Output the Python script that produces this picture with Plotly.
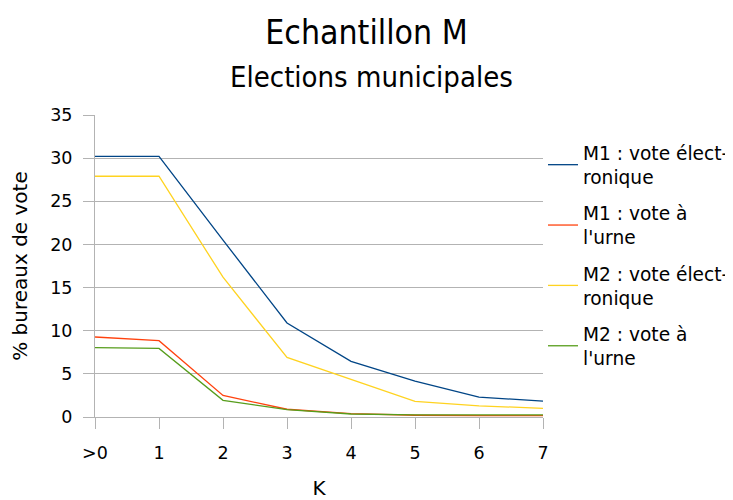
import plotly.graph_objects as go

categories = [">0", "1", "2", "3", "4", "5", "6", "7"]
m1_elec = [30.2, 30.2, 20.5, 10.9, 6.45, 4.15, 2.3, 1.85]
m1_urne = [9.27, 8.84, 2.5, 0.9, 0.4, 0.2, 0.15, 0.15]
m2_elec = [27.9, 27.9, 16.2, 6.9, 4.35, 1.8, 1.3, 1.0]
m2_urne = [8.05, 7.95, 1.93, 0.85, 0.35, 0.25, 0.25, 0.25]
y_ticks = [0, 5, 10, 15, 20, 25, 30, 35]

series = [
    ("M1 : vote élect-<br>ronique", m1_elec, "#004586"),
    ("M1 : vote à<br>l'urne", m1_urne, "#ff420e"),
    ("M2 : vote élect-<br>ronique", m2_elec, "#ffd320"),
    ("M2 : vote à<br>l'urne", m2_urne, "#579d1c"),
]

# page body has an 8px margin: figure coords = screen coords - 8
OFF = 8
W, H = 733 - OFF, 500 - OFF
PLOT_L, PLOT_R, PLOT_T, PLOT_B = 95 - OFF, 543 - OFF, 115 - OFF, 417 - OFF
PW, PH = PLOT_R - PLOT_L, PLOT_B - PLOT_T

xs = list(range(len(categories)))
fig = go.Figure()
for i, (name, vals, col) in enumerate(series):
    fig.add_trace(go.Scatter(x=xs, y=vals, mode="lines", name=name,
                             legendgroup=f"g{i}",
                             line=dict(color=col, width=1.3)))

fig.update_layout(
    width=W, height=H,
    paper_bgcolor="white", plot_bgcolor="white",
    margin=dict(l=PLOT_L, r=W - PLOT_R, t=PLOT_T, b=H - PLOT_B),
    font=dict(family="DejaVu Sans", size=17.5, color="black"),
    title=dict(text="Echantillon M", x=(366.5 - OFF) / W, xref="container",
               xanchor="center",
               y=1 - (32 - OFF) / H, yref="container", yanchor="middle",
               font=dict(family="DejaVu Sans Condensed", size=33.5)),
    showlegend=True,
    legend=dict(x=(543 - OFF) / W, xref="container", xanchor="left",
                y=1 - (134 - OFF) / H, yref="container", yanchor="top",
                font=dict(size=18.6), tracegroupgap=9, itemwidth=30,
                bgcolor="rgba(0,0,0,0)"),
    xaxis=dict(range=[0, 7], tickvals=xs, ticktext=categories, automargin=False,
               showgrid=False, ticks="outside", ticklen=11, tickcolor="#b3b3b3",
               ticklabelstandoff=9,
               showline=True, linecolor="#b3b3b3", linewidth=1,
               zeroline=False,
               title=dict(text="K", font=dict(size=20), standoff=28)),
    yaxis=dict(range=[0, 35], tickvals=y_ticks, showgrid=True, gridcolor="#b3b3b3",
               automargin=False, ticklabelstandoff=7,
               gridwidth=1, ticks="outside", ticklen=11, tickcolor="#b3b3b3",
               showline=True, linecolor="#b3b3b3", linewidth=1, zeroline=False,
               title=dict(text="% bureaux de vote", font=dict(size=20), standoff=18)),
    annotations=[dict(text="Elections municipales",
                      x=(371 - 95) / PW, xref="paper", xanchor="center",
                      y=(417 - 77) / PH, yref="paper", yanchor="middle",
                      showarrow=False,
                      font=dict(family="DejaVu Sans Condensed", size=29))],
)

fig.write_html("out.html")
